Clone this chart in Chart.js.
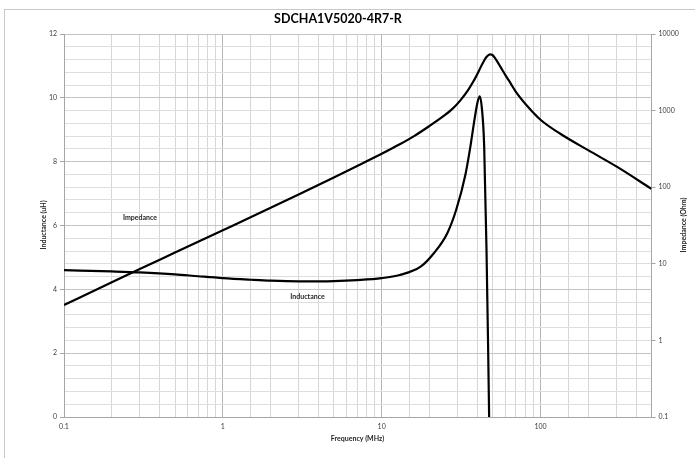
<!DOCTYPE html>
<html><head><meta charset="utf-8">
<script src="https://cdn.jsdelivr.net/npm/chart.js@4.4.1/dist/chart.umd.min.js"></script>
<style>html,body{margin:0;padding:0;background:#fff}#wrap{width:695px;height:458px;position:relative}</style>
</head><body><div id="wrap"><canvas id="c" width="695" height="458"></canvas></div>
<script>
const chartTitle = "SDCHA1V5020-4R7-R";
const xTitle = "Frequency (MHz)";
const yLeftTitle = "Inductance (uH)";
const yRightTitle = "Impedance (Ohm)";
const impedanceLabel = "Impedance";
const inductanceLabel = "Inductance";

const inductanceFreq   = [0.1, 0.2, 0.3, 0.5, 0.7, 1, 1.5, 2, 3, 5, 7, 10, 13, 17.6, 21.3, 25.9, 29.5, 33.7, 36, 38.5, 40.3, 41.5, 42.7, 44.2, 45.7, 46.8, 47.5];
const inductanceValues = [4.60, 4.56, 4.53, 4.47, 4.41, 4.35, 4.30, 4.27, 4.25, 4.26, 4.29, 4.35, 4.45, 4.71, 5.13, 5.76, 6.5, 7.6, 8.4, 9.35, 9.9, 10.05, 9.7, 8.5, 5.3, 2.2, 0];

const impedanceFreq   = [0.1, 0.2, 0.3, 0.5, 1, 2, 3, 5, 7, 10, 13, 16, 20, 24, 28, 31.4, 35, 38, 40.5, 43, 45, 46.5, 48, 49.5, 51, 53, 56, 60, 65, 70, 82.8, 100, 134, 202, 304, 500];
const impedanceValues = [2.9, 5.75, 8.55, 14.0, 27.4, 53.8, 80.3, 134, 189, 273, 363, 465, 630, 820, 1060, 1370, 1850, 2450, 3150, 4050, 4800, 5200, 5430, 5350, 5050, 4480, 3720, 2930, 2250, 1760, 1140, 760, 495, 300, 184, 95];

const xTickLabels = ["0.1", "1", "10", "100"];
const leftTickLabels = ["0", "2", "4", "6", "8", "10", "12"];
const rightTickLabels = ["0.1", "1", "10", "100", "1000", "10000"];

const FONT = "Lato, 'Open Sans', sans-serif";
const isDecade = v => Math.abs(Math.log10(v) - Math.round(Math.log10(v))) < 1e-9;
const isMajorLeft = v => Math.abs(v / 2 - Math.round(v / 2)) < 1e-6;

const decor = {
  id: 'decor',
  beforeDraw(chart) {
    const c = chart.ctx;
    c.save();
    c.fillStyle = '#fff';
    c.fillRect(0, 0, chart.width, chart.height);
    c.strokeStyle = '#c8c8c8';
    c.lineWidth = 1;
    c.strokeRect(4.5, 9.5, chart.width + 10, chart.height + 10);
    c.restore();
  },
  afterDraw(chart) {
    const c = chart.ctx;
    c.save();
    c.fillStyle = '#000';
    c.textAlign = 'center';
    c.textBaseline = 'middle';
    c.font = "bold 12.5px " + FONT;
    c.fillText(chartTitle, 338, 19);
    c.fillStyle = '#262626';
    c.font = "bold 7px " + FONT;
    c.fillText(xTitle, 357.5, 439);
    c.fillText(impedanceLabel, 140, 218);
    c.fillText(inductanceLabel, 307.5, 297);
    c.save();
    c.translate(44, 225);
    c.rotate(-Math.PI / 2);
    c.fillText(yLeftTitle, 0, 0);
    c.restore();
    c.save();
    c.translate(684, 225);
    c.rotate(-Math.PI / 2);
    c.fillText(yRightTitle, 0, 0);
    c.restore();
    c.restore();
  }
};

new Chart(document.getElementById('c'), {
  type: 'line',
  data: {
    datasets: [
      {
        label: inductanceLabel,
        data: inductanceFreq.map((f, i) => ({x: f, y: inductanceValues[i]})),
        yAxisID: 'yL',
        borderColor: '#000', borderWidth: 2.2, pointRadius: 0, fill: false,
        cubicInterpolationMode: 'monotone'
      },
      {
        label: impedanceLabel,
        data: impedanceFreq.map((f, i) => ({x: f, y: impedanceValues[i]})),
        yAxisID: 'yR',
        borderColor: '#000', borderWidth: 2.2, pointRadius: 0, fill: false,
        cubicInterpolationMode: 'monotone'
      }
    ]
  },
  options: {
    responsive: false,
    animation: false,
    layout: {padding: {top: 34, left: 0, right: 0, bottom: 0}},
    plugins: {legend: {display: false}, tooltip: {enabled: false}, title: {display: false}},
    scales: {
      x: {
        type: 'logarithmic', min: 0.1, max: 500, position: 'bottom',
        afterFit(s) { s.height = 41; },
        border: {color: '#a6a6a6'},
        grid: {
          color: ctx => isDecade(ctx.tick.value) ? '#b4b4b4' : '#d6d6d6',
          tickLength: 4, tickColor: 'rgba(0,0,0,0)'
        },
        ticks: {
          autoSkip: false, maxRotation: 0, padding: 2,
          color: '#404040', font: {family: FONT, size: 7},
          callback: v => { const s = xTickLabels.find(t => Math.abs(parseFloat(t) - v) < 1e-9 * v); return s || ''; }
        }
      },
      yL: {
        type: 'linear', min: 0, max: 12, position: 'left',
        afterFit(s) { s.width = 64; },
        border: {color: '#a6a6a6'},
        grid: {
          color: ctx => isMajorLeft(ctx.tick.value) ? '#c4c4c4' : '#dedede',
          tickLength: 4,
          tickColor: ctx => isMajorLeft(ctx.tick.value) ? '#a6a6a6' : 'rgba(0,0,0,0)'
        },
        ticks: {
          stepSize: 0.4, autoSkip: false, padding: 3,
          color: '#404040', font: {family: FONT, size: 7},
          callback: v => { const s = leftTickLabels.find(t => Math.abs(parseFloat(t) - v) < 1e-6); return s || ''; }
        }
      },
      yR: {
        type: 'logarithmic', min: 0.1, max: 10000, position: 'right',
        afterFit(s) { s.width = 43.5; },
        afterBuildTicks(s) { s.ticks = rightTickLabels.map(t => ({value: parseFloat(t)})); },
        border: {color: '#a6a6a6'},
        grid: {drawOnChartArea: false, tickLength: 4, tickColor: '#a6a6a6'},
        ticks: {
          autoSkip: false, padding: 3,
          color: '#404040', font: {family: FONT, size: 7},
          callback: v => { const s = rightTickLabels.find(t => Math.abs(parseFloat(t) - v) < 1e-9 * v); return s || ''; }
        }
      }
    }
  },
  plugins: [decor]
});
</script></body></html>
